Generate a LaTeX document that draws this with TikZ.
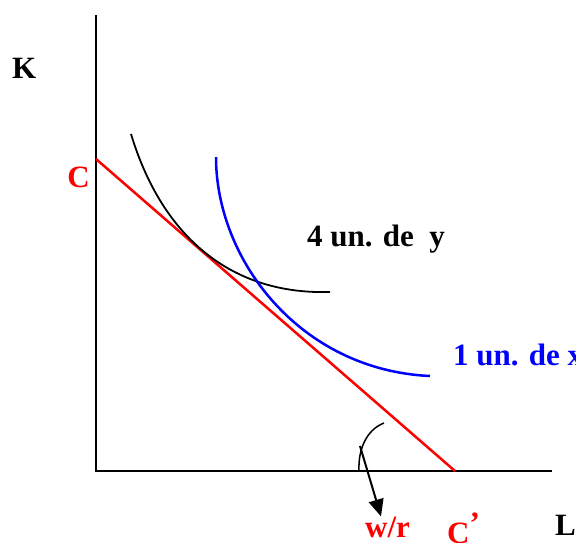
\documentclass[tikz,border=0pt]{standalone}
\usepackage{fontspec}
\setmainfont{Liberation Serif}
\usetikzlibrary{arrows.meta}
\begin{document}
\begin{tikzpicture}[
  x=1pt, y=-1pt,
  axis/.style={line width=2pt},
  lbl/.style={font=\fontsize{31}{31}\selectfont\bfseries, inner sep=0pt},
  isoq/.style={line width=1.8pt},
  budget/.style={red, line width=2.5pt},
  >={Stealth[length=17pt, width=15pt, inset=0pt]}
]
  \useasboundingbox (0,0) rectangle (576,542);
  \coordinate (O) at (96,471);
  \coordinate (Ktop) at (96,15);
  \coordinate (Lend) at (552,471);
  \draw[axis] (Ktop) -- (O) -- (Lend);
  \node[lbl, anchor=base west] (K) at (12,78) {K};
  \node[lbl, anchor=base west] (L) at (555,535) {L};
  % budget line C--C'
  \coordinate (C) at (96,159);
  \coordinate (Cp) at (455,471);
  \draw[budget] (C) -- (Cp);
  \node[lbl, red, anchor=base east] (Clbl) at (90,187) {C};
  \node[lbl, red, anchor=base west] (Cplbl) at (447,543) {C\raisebox{0.3em}{’}};
  % isoquants
  \draw[isoq] (131,134) .. controls (160,230) and (225,295) .. (330,292);
  \draw[isoq, blue, line width=2.5pt] (216,157) .. controls (216,260) and (300,370) .. (430,376);
  \node[lbl, anchor=base west] (y4) at (307,246) {4 un. de\ \ y};
  \node[lbl, blue, anchor=base west] (x1) at (453,365) {1 un. de x};
  % slope w/r
  \draw[line width=1.5pt] (384,423) .. controls (366,430) and (358,450) .. (359,471);
  \node[lbl, red, anchor=base west] (wr) at (365,537) {w/r};
  \coordinate (arrS) at (360,446);
  \draw[->, line width=2pt] (arrS) -- (wr.north -| 381,0);
\end{tikzpicture}
\end{document}
